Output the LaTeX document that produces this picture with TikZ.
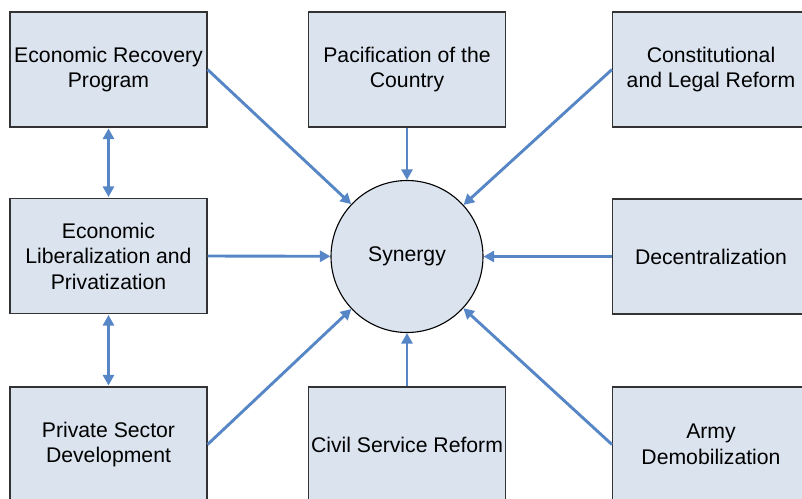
\documentclass[tikz,border=0pt]{standalone}
\usepackage{fontspec}
\setmainfont{Liberation Sans}
\usetikzlibrary{arrows.meta}
\definecolor{boxfill}{RGB}{218,227,238}
\definecolor{arrowblue}{RGB}{86,134,197}
\begin{document}
\begin{tikzpicture}[x=1pt,y=-1pt,
  box/.style={draw=black!80, line width=1.1pt, fill=boxfill,
    minimum width=197pt, minimum height=115pt, inner sep=0pt,
    align=center, font=\fontsize{21.2}{25.5}\selectfont},
  hub/.style={circle, draw=black, line width=1.1pt, fill=boxfill,
    minimum size=152pt, inner sep=0pt,
    font=\fontsize{21.2}{25.5}\selectfont},
  tip/.tip={Triangle[length=10.5pt,width=11pt]},
  link/.style={draw=arrowblue, line width=2.9pt, -tip},
  twoway/.style={draw=arrowblue, line width=2.9pt, tip-tip, shorten <=1pt, shorten >=1pt}
]
\useasboundingbox (0,0) rectangle (802,498);
\clip (0,0) rectangle (802,498);

% outer ring of factors
\node[box] (erp)  at (108.5,69.5)  {Economic Recovery\\Program};
\node[box] (pac)  at (407,69.5)    {Pacification of the\\Country};
\node[box] (con)  at (711,69.5)    {Constitutional\\and Legal Reform};
\node[box] (lib)  at (108.5,256)   {Economic\\Liberalization and\\Privatization};
\node[box] (dec)  at (711,256.5)   {Decentralization};
\node[box] (psd)  at (108.5,444.5) {Private Sector\\Development};
\node[box] (civ)  at (407,444.5)   {Civil Service Reform};
\node[box] (army) at (711,444.5)   {Army\\Demobilization};

% central hub
\node[hub] (syn) at (407,256.5) {Synergy};

% links into the hub
\draw[link] (erp.east)   -- (syn);
\draw[link] (pac.south)  -- (syn);
\draw[link] (con.west)   -- (syn);
\draw[link] (lib.east)   -- (syn);
\draw[link] (dec.west)   -- (syn);
\draw[link] (psd.east)   -- (syn);
\draw[link] (civ.north)  -- (syn);
\draw[link] (army.west)  -- (syn);

% two-way links on the left column
\draw[twoway] (erp.south) -- (lib.north);
\draw[twoway] (lib.south) -- (psd.north);
\end{tikzpicture}
\end{document}
